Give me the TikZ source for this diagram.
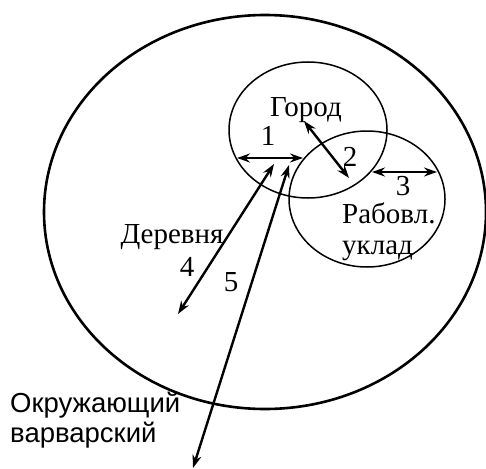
\documentclass[tikz,border=0pt]{standalone}
\usepackage{fontspec}
\setmainfont{Liberation Serif}
\newfontfamily\labelsans{Liberation Sans}
\usetikzlibrary{arrows.meta}
\newcommand{\txtsize}{29}
\tikzset{zone/.style={draw,line width=#1},zone/.default=1.5pt}
\tikzset{label/.style={inner sep=0pt,font=\fontsize{\txtsize}{31}\selectfont,align=#1},label/.default=center}
\tikzset{link/.style={line width=2.4pt,{Stealth[length=13pt,width=9pt]}-{Stealth[length=13pt,width=9pt]}}}

\begin{document}
\begin{tikzpicture}[x=1pt,y=-1pt]
		\useasboundingbox (0,0) rectangle (486,468);
		\draw [zone=2.6pt] (265,212) ellipse [x radius=221,y radius=197];
		\draw [zone] (308,130) ellipse [x radius=79,y radius=68];
		\draw [zone] (367,199) ellipse [x radius=78,y radius=68];
		
		\node [label] (gorod) at (306,110) {Город};
		\node [label=left,anchor=west] (uklad) at (342,232) {Рабовл.\\уклад};
		\node [label] (derevnya) at (172,237) {Деревня};
		\node [label=left,anchor=west,font=\labelsans\fontsize{27.5}{30}\selectfont] (varvar) at (10,420) {Окружающий\\варварский};
		
		\node [label] (n1) at (268,136) {1};
		\node [label] (n2) at (350,157) {2};
		\node [label] (n3) at (403,186) {3};
		\node [label] (n4) at (187,267) {4};
		\node [label] (n5) at (231,282) {5};
		
		\coordinate (a1) at (237,158);
		\coordinate (b1) at (303,158);
		\coordinate (a2) at (304,121);
		\coordinate (b2) at (349,178);
		\coordinate (a3) at (372,172);
		\coordinate (b3) at (437,172);
		\coordinate (a4) at (274,164);
		\coordinate (b4) at (178,314);
		\coordinate (a5) at (289,165);
		\coordinate (b5) at (193,468);
		
		\draw [link] (a1) -- (b1);
		\draw [link] (a2) -- (b2);
		\draw [link] (a3) -- (b3);
		\draw [link] (a4) -- (b4);
		\draw [link] (a5) -- (b5);
	\end{tikzpicture}
\end{document}
